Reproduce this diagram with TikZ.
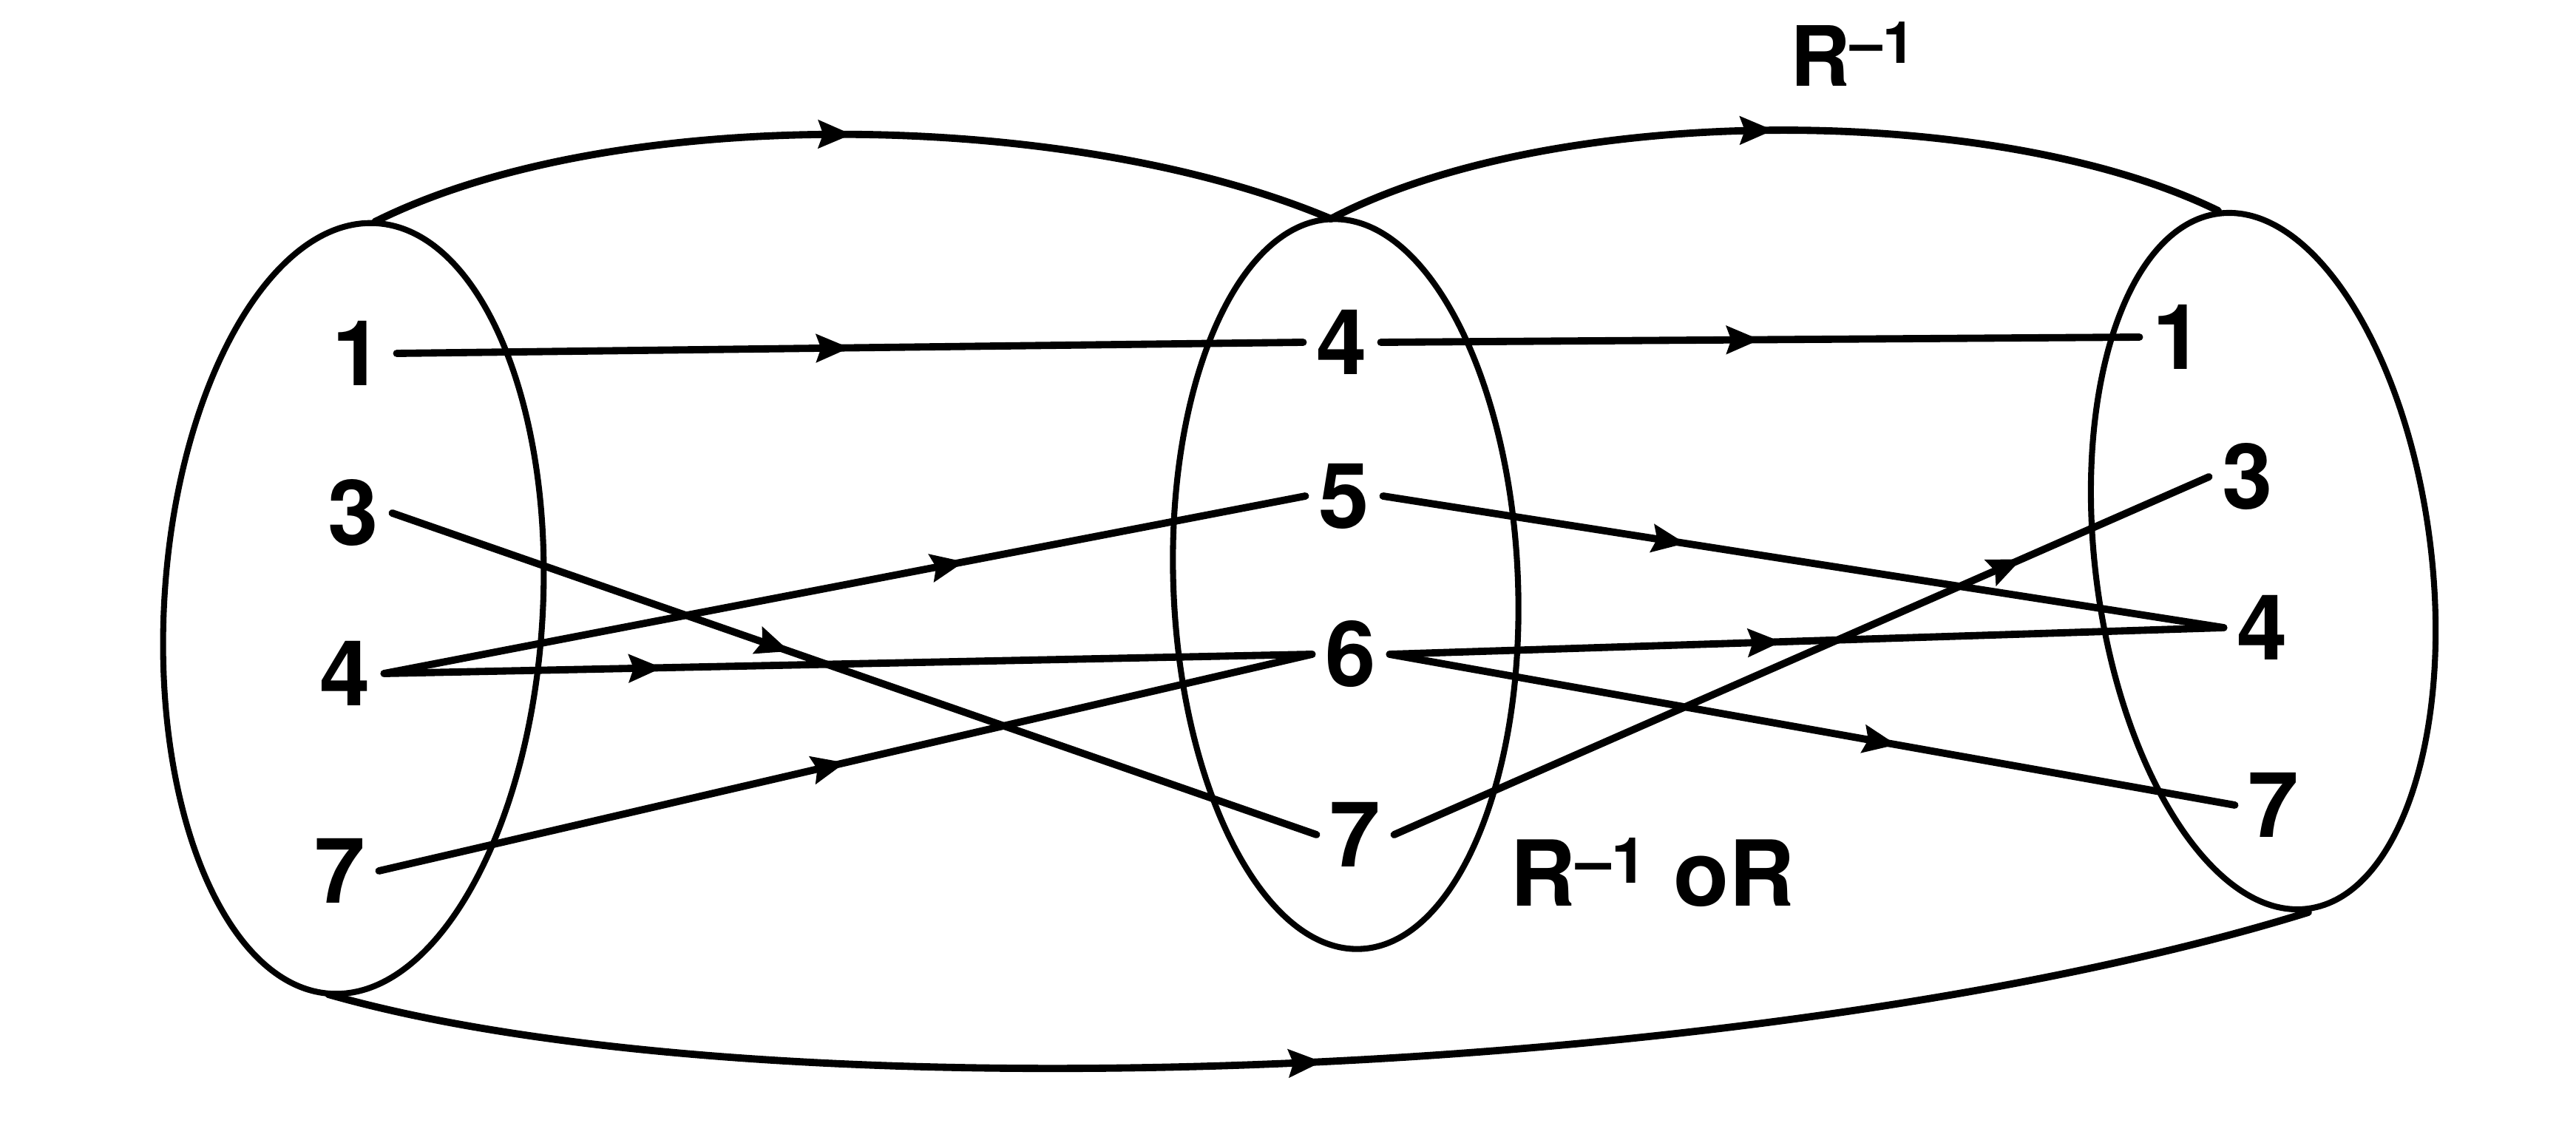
\documentclass[tikz,border=0pt]{standalone}
\usepackage{fontspec}
\setmainfont{TeX Gyre Heros}
\usetikzlibrary{arrows.meta,decorations.markings}

\tikzset{
  elem/.style={font=\fontsize{35}{40}\selectfont\bfseries, inner sep=5pt},
  setline/.style={line width=2.3pt},
  maparrow/.style={line width=2.8pt, line cap=round, postaction={decorate},
    decoration={markings, mark=at position #1 with {\arrow{Stealth[length=0.45cm, width=0.37cm, inset=0.06cm]}}}},
  maparrow/.default=0.5
}

\begin{document}
\begin{tikzpicture}
    		\useasboundingbox (0,0) rectangle (34.84,15.18);
    		
    		% Sets as ellipses
    		\draw[setline, rotate around={-3.4:(4.78,6.95)}] (4.78,6.95) ellipse (2.56 and 5.22);
    		\draw[setline, rotate around={2.3:(18.20,7.28)}] (18.20,7.28) ellipse (2.33 and 4.94);
    		\draw[setline, rotate around={7.3:(30.61,7.59)}] (30.61,7.59) ellipse (2.27 and 4.74);
    		
    		% Tops and bottoms of the sets
    		\coordinate (Ltop) at (5.07,12.18);
    		\coordinate (Lbot) at (4.44,1.73);
    		\coordinate (Mtop) at (18.00,12.22);
    		\coordinate (Rtop) at (30.00,12.33);
    		\coordinate (Rbot) at (31.22,2.84);
    		
    		% Elements of the first set
    		\node[elem] (L1) at (4.84,10.40) {1};
    		\node[elem] (L3) at (4.78,8.24) {3};
    		\node[elem] (L4) at (4.67,6.07) {4};
    		\node[elem] (L7) at (4.60,3.40) {7};
    		
    		% Elements of the second set
    		\node[elem] (M4) at (18.15,10.55) {4};
    		\node[elem] (M5) at (18.18,8.47) {5};
    		\node[elem] (M6) at (18.27,6.33) {6};
    		\node[elem] (M7) at (18.33,3.89) {7};
    		
    		% Elements of the third set
    		\node[elem] (R1) at (29.46,10.62) {1};
    		\node[elem] (R3) at (30.40,8.73) {3};
    		\node[elem] (R4) at (30.60,6.69) {4};
    		\node[elem] (R7) at (30.75,4.29) {7};
    		
    		% Relation R
    		\draw[maparrow] (L1.east) -- (M4.west);
    		\draw[maparrow=0.43] (L3.east) -- (M7.west);
    		\draw[maparrow=0.63] (L4.east) -- (M5.west);
    		\draw[maparrow=0.3] (L4.east) -- (M6.west);
    		\draw[maparrow] (L7.east) -- (M6.west);
    		
    		% Relation R^{-1}
    		\draw[maparrow] (M4.east) -- (R1.west);
    		\draw[maparrow=0.36] (M5.east) -- (R4.west);
    		\draw[maparrow=0.47] (M6.east) -- (R4.west);
    		\draw[maparrow=0.6] (M6.east) -- (R7.west);
    		\draw[maparrow=0.77] (M7.east) -- (R3.west);
    		
    		% Curves between the sets
    		\draw[maparrow] (Ltop) .. controls (8.3,13.8) and (14.5,13.7) .. (Mtop);
    		\draw[maparrow] (Mtop) .. controls (21,13.8) and (27,13.8) .. (Rtop);
    		\draw[maparrow] (Lbot) .. controls (10.5,0.0) and (24,0.6) .. (Rbot);
    		
    		% Labels
    		\node[font=\fontsize{32}{38}\selectfont\bfseries] (invR) at (25.07,14.45) {R\textsuperscript{–1}};
    		\node[font=\fontsize{35}{40}\selectfont\bfseries] (compR) at (22.35,3.38) {R\textsuperscript{–1} oR};
\end{tikzpicture}
\end{document}
